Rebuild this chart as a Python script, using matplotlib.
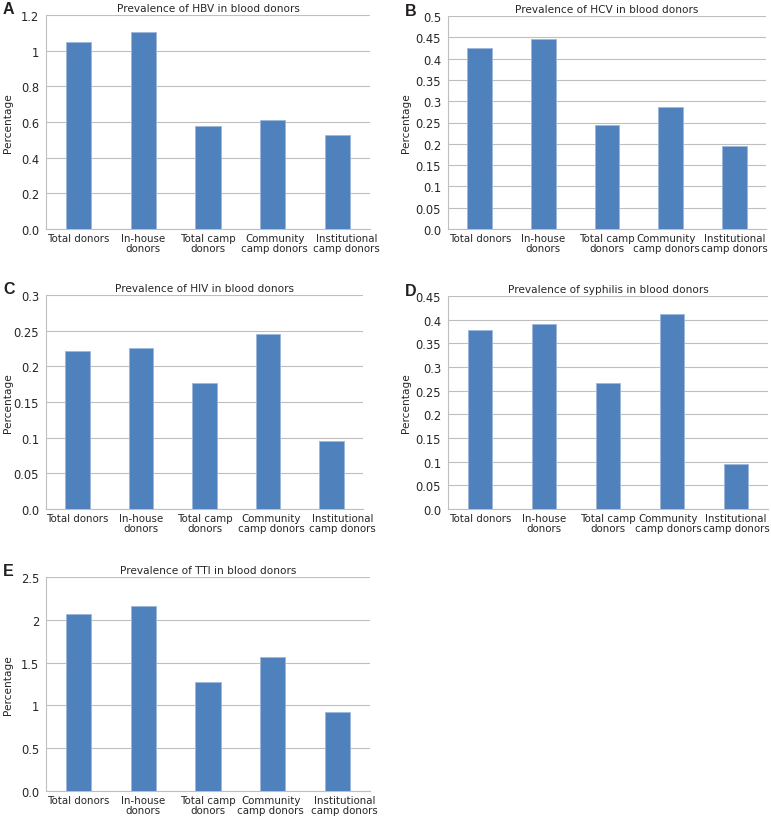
import matplotlib
matplotlib.use("Agg")
import matplotlib.pyplot as plt
from matplotlib.ticker import FuncFormatter, MultipleLocator
from matplotlib.transforms import ScaledTranslation

# Categorias del eje x
categorias = ["Total donors", "In-house\ndonors", "Total camp\ndonors",
              "Community\ncamp donors", "Institutional\ncamp donors"]

# Prevalencias (%)
hbv = [1.047, 1.103, 0.576, 0.613, 0.529]
hcv = [0.425, 0.447, 0.244, 0.287, 0.194]
hiv = [0.221, 0.226, 0.177, 0.245, 0.096]
sifilis = [0.378, 0.391, 0.266, 0.411, 0.095]
tti = [2.073, 2.166, 1.269, 1.560, 0.920]

paneles = [
    ("A", "Prevalence of HBV in blood donors", hbv, 1.2, 0.2),
    ("B", "Prevalence of HCV in blood donors", hcv, 0.5, 0.05),
    ("C", "Prevalence of HIV in blood donors", hiv, 0.3, 0.05),
    ("D", "Prevalence of syphilis in blood donors", sifilis, 0.45, 0.05),
    ("E", "Prevalence of TTI in blood donors", tti, 2.5, 0.5),
]

# Posiciones de los ejes en pixeles (izq, der, arriba, abajo, x de la etiqueta y)
cajas = [
    (46, 370, 16, 230, 8),
    (448, 766, 17, 230, 406),
    (46, 363, 296, 510, 8),
    (448, 768, 297, 510, 406),
    (46, 370, 578, 792, 8),
]
# desplazamiento horizontal (px) de las etiquetas x, como en Excel
desplaz = [
    [0, 0, 0, 2, 9],
    [0, 0, 0, -4, 0],
    [0, 0, 0, 3, 11],
    [0, 0, 0, -4, 0],
    [0, 0, 0, -2, 7],
]

W, H = 771, 828
fig = plt.figure(figsize=(W / 100, H / 100), dpi=100)

color_barra = "#4f81bd"
color_texto = "#262626"
color_grid = "#bfbfbf"


def formato(v, pos):
    if abs(v) < 1e-9:
        return "0.0"
    return "%g" % round(v, 4)


for (letra, titulo, valores, ymax, paso), (x0, x1, y0, y1, xl), dx in zip(paneles, cajas, desplaz):
    ax = fig.add_axes([x0 / W, 1 - y1 / H, (x1 - x0) / W, (y1 - y0) / H])
    xs = range(len(categorias))
    ax.bar(xs, valores, width=0.39, color=color_barra, edgecolor="#9db7dc",
           linewidth=0.6, zorder=3)
    ax.set_xlim(-0.5, len(categorias) - 0.5)
    ax.set_ylim(0, ymax)
    ax.yaxis.set_major_locator(MultipleLocator(paso))
    ax.yaxis.set_major_formatter(FuncFormatter(formato))
    ax.set_xticks(list(xs))
    ax.set_xticklabels([])
    # etiquetas x dibujadas a mano para poder moverlas
    for i, (cat, d) in enumerate(zip(categorias, dx)):
        tr = ax.get_xaxis_transform() + ScaledTranslation(d / 100, -4 / 100, fig.dpi_scale_trans)
        ax.text(i, 0, cat, transform=tr, ha="center", va="top", fontsize=7.4,
                color=color_texto, linespacing=1.05, clip_on=False)
    ax.tick_params(axis="y", labelsize=8.3, colors=color_texto, length=0, pad=5)
    ax.tick_params(axis="x", length=0)
    ax.grid(axis="y", color=color_grid, linewidth=0.8, zorder=0)
    for lado in ["top", "right"]:
        ax.spines[lado].set_visible(False)
    ax.spines["left"].set_color(color_grid)
    ax.spines["bottom"].set_color(color_grid)
    ax.set_ylabel("Percentage", fontsize=7.6, color=color_texto, va="center")
    ax.yaxis.set_label_coords((xl - x0) / (x1 - x0), 0.5)
    ax.set_title(titulo, fontsize=7.6, color=color_texto, pad=3)
    # letra del panel
    fig.text((x0 - 43) / W, 1 - (y0 - 6) / H, letra, fontsize=11.5, fontweight="bold",
             family="Liberation Sans", ha="left", va="center", color="#231f20")

fig.savefig("out.png", dpi=100, facecolor="white")
